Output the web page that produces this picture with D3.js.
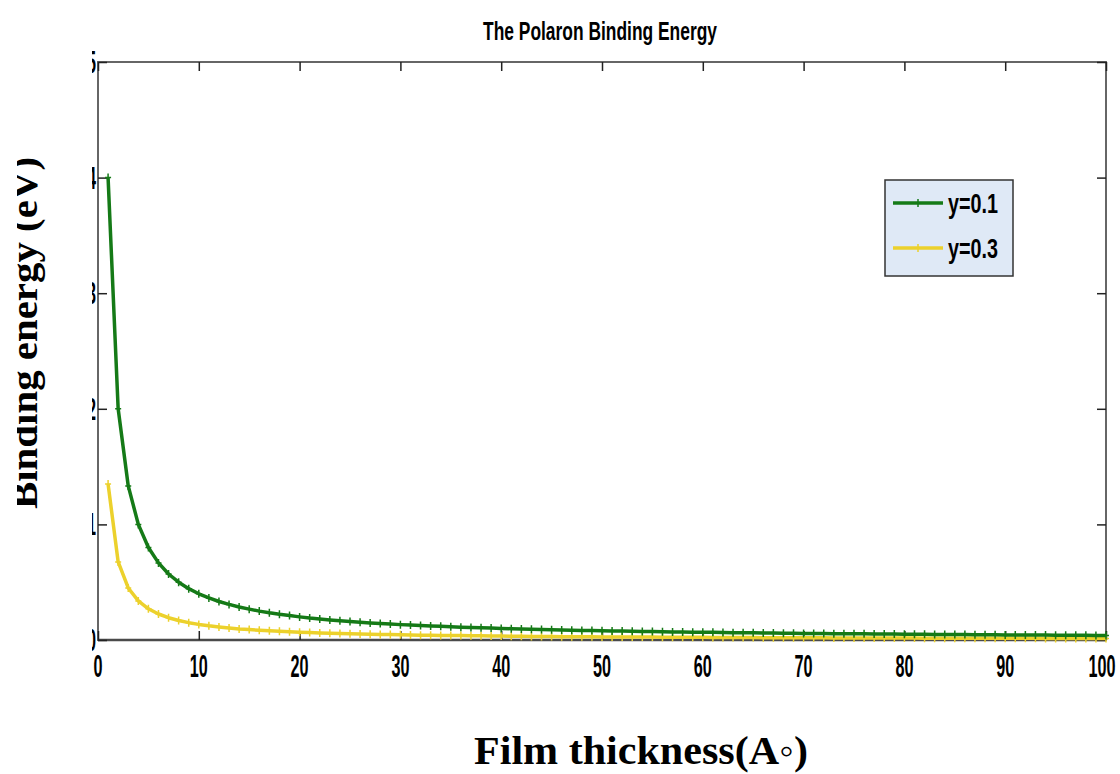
<!DOCTYPE html>
<html>
<head>
<meta charset="utf-8">
<script src="https://cdn.jsdelivr.net/npm/d3@7"></script>
<style>
  body { margin: 0; background: #fff; }
  svg { display: block; }
</style>
</head>
<body>
<div id="chart"></div>
<script>
// Data (x = 1..100)
const thickness = [
  1,2,3,4,5,6,7,8,9,10,11,12,13,14,15,16,17,18,19,20,
  21,22,23,24,25,26,27,28,29,30,31,32,33,34,35,36,37,38,39,40,
  41,42,43,44,45,46,47,48,49,50,51,52,53,54,55,56,57,58,59,60,
  61,62,63,64,65,66,67,68,69,70,71,72,73,74,75,76,77,78,79,80,
  81,82,83,84,85,86,87,88,89,90,91,92,93,94,95,96,97,98,99,100
]
const energyY01 = [
  4.000,2.000,1.333,1.000,0.800,0.667,0.571,0.500,0.444,0.400,
  0.364,0.333,0.308,0.286,0.267,0.250,0.235,0.222,0.211,0.200,
  0.190,0.182,0.174,0.167,0.160,0.154,0.148,0.143,0.138,0.133,
  0.129,0.125,0.121,0.118,0.114,0.111,0.108,0.105,0.103,0.100,
  0.098,0.095,0.093,0.091,0.089,0.087,0.085,0.083,0.082,0.080,
  0.078,0.077,0.075,0.074,0.073,0.071,0.070,0.069,0.068,0.067,
  0.066,0.065,0.063,0.063,0.062,0.061,0.060,0.059,0.058,0.057,
  0.056,0.056,0.055,0.054,0.053,0.053,0.052,0.051,0.051,0.050,
  0.049,0.049,0.048,0.048,0.047,0.047,0.046,0.045,0.045,0.044,
  0.044,0.043,0.043,0.043,0.042,0.042,0.041,0.041,0.040,0.040
]
const energyY03 = [
  1.350,0.675,0.450,0.338,0.270,0.225,0.193,0.169,0.150,0.135,
  0.123,0.113,0.104,0.096,0.090,0.084,0.079,0.075,0.071,0.068,
  0.064,0.061,0.059,0.056,0.054,0.052,0.050,0.048,0.047,0.045,
  0.044,0.042,0.041,0.040,0.039,0.038,0.036,0.036,0.035,0.034,
  0.033,0.032,0.031,0.031,0.030,0.029,0.029,0.028,0.028,0.027,
  0.026,0.026,0.025,0.025,0.025,0.024,0.024,0.023,0.023,0.023,
  0.022,0.022,0.021,0.021,0.021,0.020,0.020,0.020,0.020,0.019,
  0.019,0.019,0.018,0.018,0.018,0.018,0.018,0.017,0.017,0.017,
  0.017,0.016,0.016,0.016,0.016,0.016,0.016,0.015,0.015,0.015,
  0.015,0.015,0.015,0.014,0.014,0.014,0.014,0.014,0.014,0.014
]
const seriesNames = ['y=0.1', 'y=0.3']
const seriesColours = ['#157a17', '#ecd12c']
const xTicks = [0,10,20,30,40,50,60,70,80,90,100]
const yTicks = [0,1,2,3,4,5]

// Dimensions
const dims = {
  width: 1120,
  height: 774,
  left: 98,
  right: 1106,
  top: 62,
  bottom: 640
}

const svg = d3.select('#chart')
  .append('svg')
    .attr('width', dims.width)
    .attr('height', dims.height)

// the original picture is cropped on the left: y labels only partly show
const defs = svg.append('defs')
defs.append('clipPath').attr('id', 'ylabClip')
  .append('rect').attr('x', 17).attr('y', 0).attr('width', 60).attr('height', dims.height)
defs.append('clipPath').attr('id', 'ytickClip')
  .append('rect').attr('x', 92).attr('y', 0).attr('width', 5).attr('height', dims.height)

// Scales
const x = d3.scaleLinear().domain([0, 100]).range([dims.left, dims.right])
const y = d3.scaleLinear().domain([0, 5]).range([dims.bottom, dims.top])

const narrow = "'Liberation Sans Narrow', 'Liberation Sans', Arial, sans-serif"
const serif = "'Liberation Serif', 'Times New Roman', serif"

// Title
svg.append('text')
  .attr('x', 600).attr('y', 40)
  .attr('text-anchor', 'middle')
  .attr('font-family', narrow)
  .attr('font-weight', 'bold')
  .attr('font-size', 26)
  .attr('textLength', 234)
  .attr('lengthAdjust', 'spacingAndGlyphs')
  .text('The Polaron Binding Energy')

// Frame
svg.append('rect')
  .attr('x', dims.left).attr('y', dims.top)
  .attr('width', dims.right - dims.left)
  .attr('height', dims.bottom - dims.top)
  .attr('fill', 'none')
  .attr('stroke', '#666')
  .attr('stroke-width', 2)
svg.append('line')
  .attr('x1', dims.left).attr('x2', dims.right)
  .attr('y1', dims.bottom).attr('y2', dims.bottom)
  .attr('stroke', '#4a4a4a').attr('stroke-width', 2.5)

// Axes (inward ticks on all four sides)
const tickLen = 9
const axB = svg.append('g')
  .attr('transform', `translate(0,${dims.bottom})`)
  .call(d3.axisBottom(x).tickValues(xTicks).tickSize(-tickLen).tickFormat(''))
const axT = svg.append('g')
  .attr('transform', `translate(0,${dims.top})`)
  .call(d3.axisTop(x).tickValues(xTicks).tickSize(-tickLen).tickFormat(''))
const axL = svg.append('g')
  .attr('transform', `translate(${dims.left},0)`)
  .call(d3.axisLeft(y).tickValues(yTicks).tickSize(-tickLen).tickFormat(''))
const axR = svg.append('g')
  .attr('transform', `translate(${dims.right},0)`)
  .call(d3.axisRight(y).tickValues(yTicks).tickSize(-tickLen).tickFormat(''))
;[axB, axT, axL, axR].forEach(g => {
  g.select('.domain').remove()
  g.selectAll('.tick line').attr('stroke', '#222').attr('stroke-width', 1.5)
})

// x tick labels
svg.append('g').selectAll('text')
  .data(xTicks)
  .join('text')
    .attr('x', d => x(d) - (d === 100 ? 4 : 0))
    .attr('y', 677)
    .attr('text-anchor', 'middle')
    .attr('font-family', narrow)
    .attr('font-weight', 'bold')
    .attr('font-size', 32)
    .attr('textLength', d => String(d).length * 9)
    .attr('lengthAdjust', 'spacingAndGlyphs')
    .text(d => d)

// y tick labels
svg.append('g')
  .attr('clip-path', 'url(#ytickClip)')
  .selectAll('text')
  .data(yTicks)
  .join('text')
    .attr('x', 96)
    .attr('y', d => y(d) + 11)
    .attr('text-anchor', 'end')
    .attr('font-family', narrow)
    .attr('font-weight', 'bold')
    .attr('font-size', 32)
    .attr('textLength', 9)
    .attr('lengthAdjust', 'spacingAndGlyphs')
    .text(d => d)

// Axis titles
svg.append('text')
  .attr('x', 641).attr('y', 764)
  .attr('text-anchor', 'middle')
  .attr('font-family', serif)
  .attr('font-weight', 'bold')
  .attr('font-size', 40)
  .attr('textLength', 334)
  .attr('lengthAdjust', 'spacingAndGlyphs')
  .text('Film thickness(A\u25E6)')

svg.append('g')
  .attr('clip-path', 'url(#ylabClip)')
  .append('text')
    .attr('transform', 'translate(37,333) rotate(-90)')
    .attr('text-anchor', 'middle')
    .attr('font-family', serif)
    .attr('font-weight', 'bold')
    .attr('font-size', 37)
    .attr('textLength', 352)
    .attr('lengthAdjust', 'spacingAndGlyphs')
    .text('Binding energy (eV)')

// Curves
const series = [energyY01, energyY03]
const line = d3.line()
  .x((d, i) => x(thickness[i]))
  .y(d => y(d))
const plot = svg.append('g')
// yellow first, green on top
;[1, 0].forEach(k => {
  plot.append('path')
    .datum(series[k])
    .attr('fill', 'none')
    .attr('stroke', seriesColours[k])
    .attr('stroke-width', 3.5)
    .attr('stroke-linejoin', 'round')
    .attr('d', line)
  plot.append('g').selectAll('path')
    .data(series[k])
    .join('path')
      .attr('transform', (d, i) => `translate(${x(thickness[i])},${y(d)})`)
      .attr('d', 'M-3,0H3M0,-4V4')
      .attr('stroke', seriesColours[k])
      .attr('stroke-width', 1.5)
})

// Legend
const legend = svg.append('g').attr('transform', 'translate(885,180)')
legend.append('rect')
  .attr('width', 128).attr('height', 96)
  .attr('fill', '#dfe9f6')
  .attr('stroke', '#333')
  .attr('stroke-width', 1.5)
const items = legend.selectAll('g.item')
  .data(seriesNames)
  .join('g')
    .attr('class', 'item')
    .attr('transform', (d, i) => `translate(0,${23 + i * 45})`)
items.append('line')
  .attr('x1', 8).attr('x2', 58)
  .attr('stroke', (d, i) => seriesColours[i])
  .attr('stroke-width', 3.5)
items.append('path')
  .attr('transform', 'translate(33,0)')
  .attr('d', 'M-3,0H3M0,-4V4')
  .attr('stroke', (d, i) => seriesColours[i])
  .attr('stroke-width', 1.5)
items.append('text')
  .attr('x', 63).attr('y', 10)
  .attr('font-family', narrow)
  .attr('font-weight', 'bold')
  .attr('font-size', 27)
  .attr('textLength', 50)
  .attr('lengthAdjust', 'spacingAndGlyphs')
  .text(d => d)
</script>
</body>
</html>
